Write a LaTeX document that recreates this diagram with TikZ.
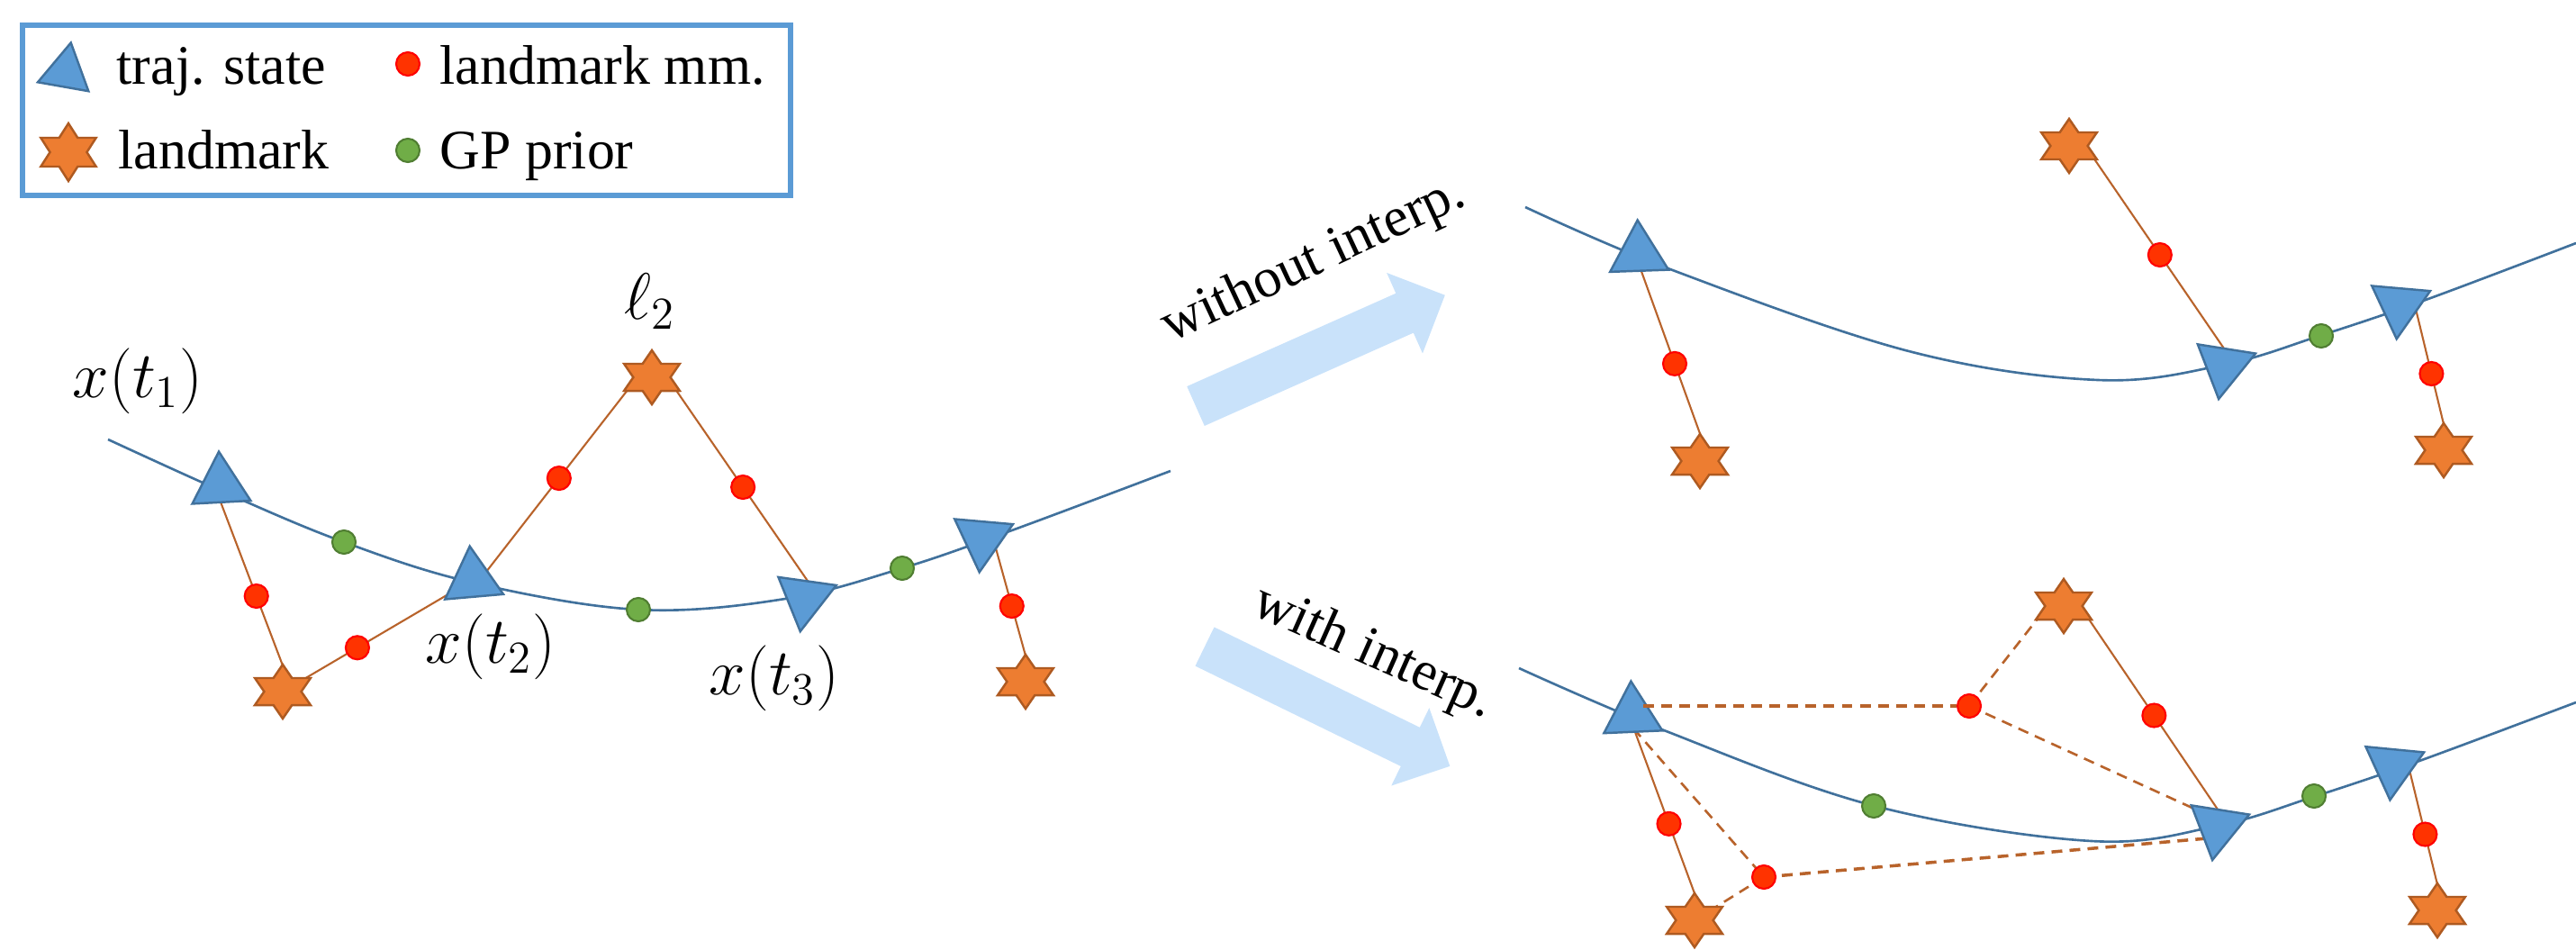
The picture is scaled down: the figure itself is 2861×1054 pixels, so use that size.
\documentclass[tikz,border=0pt]{standalone}
\usepackage{fontspec}
\setmainfont{Liberation Serif}
\newfontfamily\captionface{Liberation Serif}
\usetikzlibrary{shapes.geometric,calc}
\pgfdeclarelayer{back}
\pgfdeclarelayer{front}
\pgfsetlayers{back,main,front}

\definecolor{trifill}{HTML}{5B9BD5}
\definecolor{triline}{HTML}{41719C}
\definecolor{starfill}{HTML}{ED7D31}
\definecolor{starline}{HTML}{AE5A21}
\definecolor{mmfill}{HTML}{FF3300}
\definecolor{mmline}{HTML}{FF0000}
\definecolor{gpfill}{HTML}{70AD47}
\definecolor{gpline}{HTML}{507E32}
\definecolor{trajcol}{HTML}{41719C}
\definecolor{linkcol}{HTML}{B8632B}
\definecolor{arrowcol}{HTML}{C9E2FA}
\definecolor{keyframe}{HTML}{5B9BD5}

\begin{document}
\begin{tikzpicture}[x=0.01cm, y=-0.01cm,
  state/.style={regular polygon, regular polygon sides=3, minimum size=0.75cm,
    inner sep=0pt, fill=trifill, draw=triline, line width=0.7pt},
  lmk/.style={star, star points=6, star point ratio=1.732, minimum size=0.6cm,
    inner sep=0pt, fill=starfill, draw=starline, line width=0.7pt, xscale=1.19},
  mm/.style={circle, minimum size=0.26cm, inner sep=0pt, fill=mmfill, draw=mmline, line width=0.6pt},
  gp/.style={circle, minimum size=0.26cm, inner sep=0pt, fill=gpfill, draw=gpline, line width=0.6pt},
  traj/.style={draw=trajcol, line width=0.75pt},
  link/.style={draw=linkcol, line width=0.6pt},
  ilink/.style={draw=linkcol, line width=0.75pt, dash pattern=on 3.4pt off 2.3pt},
  ilinkb/.style={draw=linkcol, line width=1pt, dash pattern=on 3.4pt off 2.3pt},
  lbl/.style={font=\captionface\fontsize{17.6pt}{21pt}\selectfont, inner sep=0pt},
  mlbl/.style={font=\fontsize{19.5pt}{23pt}\selectfont, inner sep=0pt},
  blockarrow/.style={fill=arrowcol}
]
\useasboundingbox (0,0) rectangle (2861,1054);

% ---------- key ----------
\node[draw=keyframe, line width=1.7pt, minimum width=8.53cm, minimum height=1.89cm, inner sep=0pt] (key) at (451.5,122.5) {};
\node[state, minimum size=0.66cm, rotate=-10] (keytri) at (73,80) {};
\node[lbl, anchor=base west] (keytrilbl) at (129,93) {traj. state};
\node[mm] (keymm) at (453,71) {};
\node[lbl, anchor=base west] (keymmlbl) at (488,93) {landmark mm.};
\node[lmk, minimum size=0.64cm, xscale=0.93] (keylmk) at (76,169) {};
\node[lbl, anchor=base west] (keylmklbl) at (131,187) {landmark};
\node[gp] (keygp) at (453,167) {};
\node[lbl, anchor=base west] (keygplbl) at (488,187) {GP prior};

% ---------- left: trajectory with landmarks ----------
\node[state, rotate=3]  (T1) at (245,539) {};
\node[state, rotate=5]  (T2) at (525,644) {};
\node[state, rotate=52] (T3) at (894,664) {};
\node[state, rotate=55] (T4) at (1091,598) {};
\node[lmk] (S1) at (314,768) {};
\node[lmk] (L2) at (724,419) {};
\node[lmk] (S4) at (1139,757) {};

\coordinate (T1a) at ($(T1)+(-7,0)$);  \coordinate (S1a) at ($(S1)+(11,0)$);
\coordinate (T2a) at ($(T2)+(8,0)$);   \coordinate (L2a) at ($(L2)+(-16,0)$);
\coordinate (L2b) at ($(L2)+(17,0)$);  \coordinate (T3a) at ($(T3)+(16,0)$);
\coordinate (T4a) at ($(T4)+(12,0)$);  \coordinate (S4a) at ($(S4)+(8,0)$);

\node[mlbl] (lx1) at (153,423) {$x(t_1)$};
\node[mlbl] (ll2) at (722,335) {$\ell_2$};
\node[mlbl] (lx2) at (545,718) {$x(t_2)$};
\node[mlbl] (lx3) at (860,753) {$x(t_3)$};

% ---------- right, top: without interpolation ----------
\node[state, rotate=2]  (A1) at (1820,282) {};
\node[state, rotate=51] (B1) at (2470,406) {};
\node[state, rotate=55] (C1) at (2665,339) {};
\node[lmk] (SA1) at (1888,512) {};
\node[lmk] (SB1) at (2298,162) {};
\node[lmk] (SC1) at (2714,500) {};
\coordinate (A1a) at ($(A1)+(-4,0)$);   \coordinate (SA1a) at ($(SA1)+(11,0)$);
\coordinate (SB1a) at ($(SB1)+(18,0)$); \coordinate (B1a) at ($(B1)+(13,0)$);
\coordinate (C1a) at ($(C1)+(17,0)$);   \coordinate (SC1a) at ($(SC1)+(7,0)$);

% ---------- right, bottom: with interpolation ----------
\node[state, rotate=2.5]  (A2) at (1813,794) {};
\node[state, rotate=51]   (B2) at (2463,918) {};
\node[state, rotate=54.5] (C2) at (2658,851) {};
\node[lmk] (SA2) at (1882,1022) {};
\node[lmk] (SB2) at (2292,673) {};
\node[lmk] (SC2) at (2707,1011) {};
\coordinate (A2a) at ($(A2)+(-4,0)$);   \coordinate (SA2a) at ($(SA2)+(11,0)$);
\coordinate (SB2a) at ($(SB2)+(18,0)$); \coordinate (B2a) at ($(B2)+(13,0)$);
\coordinate (C2a) at ($(C2)+(17,0)$);   \coordinate (SC2a) at ($(SC2)+(7,0)$);
\coordinate (A2in) at ($(A2)+(12,-10)$);
\coordinate (A2lo) at ($(A2)+(-12,0)$);
\coordinate (SB2b) at ($(SB2)+(-18,0)$);
\coordinate (B2up) at ($(B2)+(0,-8)$);
\coordinate (B2lo) at ($(B2)+(0,12)$);

% ---------- measurement and prior factors ----------
\node[mm] (m11) at ($(T1a)!0.537!(S1a)$) {};
\node[mm] (m12) at ($(S1)!0.393!(T2)$) {};
\node[mm] (m22) at ($(T2a)!0.502!(L2a)$) {};
\node[mm] (m23) at ($(L2b)!0.498!(T3a)$) {};
\node[mm] (m34) at ($(T4a)!0.472!(S4a)$) {};
\node[gp] (g12) at (382,602) {};
\node[gp] (g23) at (709,677) {};
\node[gp] (g34) at (1002,631) {};

\node[mm] (mA1) at ($(A1a)!0.53!(SA1a)$) {};
\node[mm] (mB1) at ($(SB1a)!0.496!(B1a)$) {};
\node[mm] (mC1) at ($(C1a)!0.472!(SC1a)$) {};
\node[gp] (gBC1) at (2578,373) {};

\node[mm] (mA2) at ($(A2a)!0.53!(SA2a)$) {};
\node[mm] (mB2) at ($(SB2a)!0.496!(B2a)$) {};
\node[mm] (mC2) at ($(C2a)!0.472!(SC2a)$) {};
\node[mm] (mD) at (2187,784) {};
\node[mm] (mG) at (1959,974) {};
\node[gp] (gAB2) at (2081,895) {};
\node[gp] (gBC2) at (2570,884) {};

% ---------- block arrows and their captions ----------
\fill[blockarrow, shift={(1328,451)}, rotate=24]
  (0,-24) -- (254,-24) -- (254,-49) -- (303,0) -- (254,49) -- (254,24) -- (0,24) -- cycle;
\fill[blockarrow, shift={(1338,718)}, rotate=-26]
  (0,-24) -- (254,-24) -- (254,-48) -- (303,0) -- (254,48) -- (254,24) -- (0,24) -- cycle;
\node[lbl, anchor=base west, rotate=25]  (wo) at (1300,381) {without interp.};
\node[lbl, anchor=base west, rotate=-24] (wi) at (1388,681) {with interp.};

% ---------- trajectories and connectors underneath ----------
\begin{pgfonlayer}{back}
  \draw[traj] plot[smooth, tension=0.6] coordinates {(120,488) (250,547) (382,602) (525,647)
    (709,677) (872,665) (1002,631) (1121,590) (1300,523)};
  \draw[traj] plot[smooth, tension=0.6] coordinates {(1694,230) (1855,299) (2120,390)
    (2330,422) (2470,405) (2579,372) (2694,333) (2861,270)};
  \draw[traj] plot[smooth, tension=0.6] coordinates {(1687,742) (1848,811) (2082,895)
    (2323,934) (2463,917) (2572,884) (2687,845) (2861,780)};

  \draw[link] (T1a) -- (S1a);
  \draw[link] (S1.center) -- (T2.center);
  \draw[link] (T2a) -- (L2a);
  \draw[link] (L2b) -- (T3a);
  \draw[link] (T4a) -- (S4a);

  \draw[link] (A1a) -- (SA1a);
  \draw[link] (SB1a) -- (B1a);
  \draw[link] (C1a) -- (SC1a);

  \draw[link] (A2a) -- (SA2a);
  \draw[link] (SB2a) -- (B2a);
  \draw[link] (C2a) -- (SC2a);

  \draw[ilink] (mD.center) -- (SB2b);
  \draw[ilink] (mD.center) -- (B2up);
  \draw[ilink] (A2lo) -- (mG.center);
  \draw[ilink] (mG.center) -- (SA2.center);
  \draw[ilinkb] (mG.center) -- (B2lo);
\end{pgfonlayer}

\begin{pgfonlayer}{front}
  \draw[ilinkb] (A2in) -- (mD);
\end{pgfonlayer}
\end{tikzpicture}
\end{document}
